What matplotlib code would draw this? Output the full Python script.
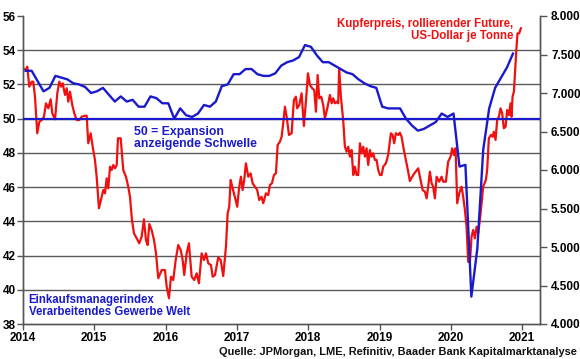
import matplotlib
matplotlib.use("Agg")
import matplotlib.pyplot as plt
from matplotlib.ticker import FuncFormatter, FixedLocator
import numpy as np

plt.rcParams['font.family'] = ['Liberation Sans', 'DejaVu Sans']

# --- Data -------------------------------------------------------------
# JPMorgan global manufacturing PMI, monthly from Jan 2014 to Nov 2020
pmi_start_year = 2014
pmi_values = [
    52.8, 52.8, 52.2, 51.6, 51.8, 52.5, 52.4, 52.3, 52.07, 52.0, 51.85, 51.5,
    51.6, 51.8, 51.4, 51.0, 51.3, 51.0, 51.1, 50.7, 50.7, 51.3, 51.2, 50.9,
    50.9, 50.0, 50.6, 50.2, 50.1, 50.3, 50.8, 50.7, 51.0, 51.9, 52.0, 52.6,
    52.6, 52.9, 52.9, 52.6, 52.5, 52.5, 52.65, 53.1, 53.3, 53.4, 53.6, 54.3,
    54.2, 53.7, 53.3, 53.3, 53.1, 52.9, 52.7, 52.6, 52.3, 52.07, 51.9, 51.8,
    50.7, 50.6, 50.6, 50.6, 50.0, 49.6, 49.3, 49.4, 49.6, 49.8, 50.3, 50.1,
    50.3, 47.2, 47.3, 39.6, 42.4, 48.2, 50.6, 51.8, 52.4, 53.0, 53.8,
]

# Copper price (rolling future, USD per tonne), dates as decimal years
cu_dates = [
    2014.004, 2014.042, 2014.060, 2014.088, 2014.122, 2014.144, 2014.168, 2014.200,
    2014.229, 2014.262, 2014.294, 2014.322, 2014.355, 2014.388, 2014.411, 2014.449,
    2014.481, 2014.509, 2014.537, 2014.557, 2014.589, 2014.613, 2014.635, 2014.659,
    2014.691, 2014.719, 2014.753, 2014.789, 2014.823, 2014.869, 2014.893, 2014.915,
    2014.949, 2014.977, 2015.009, 2015.033, 2015.065, 2015.103, 2015.126, 2015.150,
    2015.173, 2015.196, 2015.220, 2015.244, 2015.266, 2015.290, 2015.314, 2015.332,
    2015.370, 2015.406, 2015.444, 2015.476, 2015.500, 2015.528, 2015.556, 2015.594,
    2015.630, 2015.664, 2015.696, 2015.724, 2015.748, 2015.771, 2015.804, 2015.837,
    2015.865, 2015.897, 2015.945, 2015.991, 2016.015, 2016.047, 2016.075, 2016.107,
    2016.141, 2016.177, 2016.211, 2016.239, 2016.261, 2016.295, 2016.327, 2016.365,
    2016.402, 2016.435, 2016.467, 2016.505, 2016.538, 2016.566, 2016.598, 2016.636,
    2016.660, 2016.692, 2016.738, 2016.772, 2016.808, 2016.846, 2016.870, 2016.892,
    2016.912, 2016.934, 2016.958, 2016.982, 2017.004, 2017.032, 2017.056, 2017.080,
    2017.102, 2017.126, 2017.159, 2017.192, 2017.220, 2017.252, 2017.285, 2017.313,
    2017.346, 2017.369, 2017.407, 2017.439, 2017.463, 2017.491, 2017.519, 2017.547,
    2017.571, 2017.603, 2017.627, 2017.649, 2017.673, 2017.697, 2017.730, 2017.767,
    2017.799, 2017.827, 2017.845, 2017.874, 2017.907, 2017.939, 2017.967, 2017.996,
    2018.024, 2018.056, 2018.084, 2018.108, 2018.132, 2018.154, 2018.182, 2018.210,
    2018.234, 2018.272, 2018.304, 2018.328, 2018.350, 2018.374, 2018.398, 2018.420,
    2018.434, 2018.458, 2018.490, 2018.514, 2018.538, 2018.561, 2018.584, 2018.608,
    2018.631, 2018.654, 2018.678, 2018.701, 2018.725, 2018.748, 2018.771, 2018.795,
    2018.818, 2018.841, 2018.865, 2018.889, 2018.911, 2018.935, 2018.959, 2018.981,
    2019.005, 2019.029, 2019.051, 2019.089, 2019.121, 2019.159, 2019.183, 2019.205,
    2019.229, 2019.262, 2019.285, 2019.309, 2019.341, 2019.369, 2019.397, 2019.425,
    2019.472, 2019.505, 2019.542, 2019.566, 2019.604, 2019.636, 2019.660, 2019.682,
    2019.706, 2019.730, 2019.752, 2019.776, 2019.800, 2019.836, 2019.870, 2019.892,
    2019.930, 2019.962, 2019.996, 2020.019, 2020.042, 2020.066, 2020.089, 2020.117,
    2020.150, 2020.173, 2020.197, 2020.220, 2020.243, 2020.267, 2020.290, 2020.313,
    2020.337, 2020.361, 2020.383, 2020.407, 2020.431, 2020.453, 2020.491, 2020.509,
    2020.533, 2020.561, 2020.585, 2020.603, 2020.627, 2020.649, 2020.673, 2020.697,
    2020.720, 2020.743, 2020.767, 2020.790, 2020.813, 2020.837, 2020.851, 2020.865,
    2020.884, 2020.902, 2020.921, 2020.935, 2020.958, 2020.982,
]
cu_values = [
    7321, 7299, 7342, 7082, 7147, 7147, 6952, 6477,
    6627, 6649, 6692, 6866, 6801, 6918, 6736, 6658,
    6996, 7147, 7082, 7126, 6974, 7061, 6887, 7017,
    6844, 6736, 6649, 6649, 6692, 6705, 6705, 6347,
    6477, 6303, 6130, 5913, 5503, 5653, 5740, 5697,
    5892, 5762, 6043, 6000, 6065, 6022, 6065, 6412,
    6412, 6000, 5913, 5783, 5653, 5351, 5178, 5113,
    5048, 5134, 5360, 5091, 5026, 5299, 5221, 5091,
    4918, 4594, 4701, 4701, 4484, 4334, 4614, 4571,
    4831, 5026, 4961, 4831, 4636, 4918, 5048, 4614,
    4571, 4658, 4529, 4918, 4831, 4918, 4788, 4766,
    4614, 4636, 4866, 4831, 4623, 5004, 5438, 5523,
    5870, 5783, 5697, 5610, 5523, 5783, 5913, 5740,
    5870, 6087, 5913, 5957, 5827, 5783, 5740, 5610,
    5653, 5568, 5697, 5675, 5805, 5827, 5935, 5957,
    6325, 6368, 6432, 6606, 6822, 6692, 6455, 6477,
    6909, 6952, 6801, 6844, 6996, 6571, 6887, 7256,
    7104, 7061, 7039, 6757, 7234, 6931, 6952, 6844,
    6671, 6822, 6974, 6866, 6931, 6866, 6887, 6866,
    7321, 6952, 6649, 6303, 6238, 6303, 6173, 6260,
    5935, 6043, 5935, 5935, 6347, 6217, 6303, 6173,
    6282, 6065, 6260, 6173, 6217, 6130, 6130, 6000,
    5935, 5935, 6043, 6087, 6195, 6477, 6455, 6347,
    6477, 6455, 6484, 6432, 6260, 6130, 6000, 5857,
    5935, 5978, 6022, 5913, 5740, 5718, 5632, 5783,
    5978, 5827, 5783, 5632, 5913, 5848, 5913, 5848,
    5848, 6108, 6173, 6282, 6195, 6282, 5568, 5697,
    5783, 5653, 5481, 5264, 4809, 4796, 5134, 5221,
    5113, 5264, 5178, 5351, 5568, 5783, 5870, 6000,
    6412, 6455, 6432, 6497, 6390, 6649, 6692, 6801,
    6736, 6542, 6562, 6779, 6714, 6866, 6692, 6952,
    7017, 7299, 7601, 7775, 7775, 7840,
]

threshold = 50
years = [2014, 2015, 2016, 2017, 2018, 2019, 2020, 2021]
left_ticks = [38, 40, 42, 44, 46, 48, 50, 52, 54, 56]
right_ticks = [4000, 4500, 5000, 5500, 6000, 6500, 7000, 7500, 8000]

# --- Figure -----------------------------------------------------------
fig = plt.figure(figsize=(5.8, 3.59), dpi=100)
ax = fig.add_axes([23/580, 1-324/359, (540-23)/580, (324-16)/359])
ax2 = ax.twinx()

RED = '#f01010'
BLUE = '#1a1acc'
GRID = '#5a5a5a'

pmi_x = pmi_start_year + (np.arange(len(pmi_values)) + 0.45) / 12.0

ax.set_xlim(2014, 2021.25)
ax.set_ylim(38, 56)
ax2.set_ylim(4000, 8000)

for v in left_ticks[1:-1]:
    ax2.axhline(4000 + (v - 38) * 4000 / 18, color=GRID, lw=1.0, zorder=0)

ax2.plot(cu_dates, cu_values, color=RED, lw=1.6, zorder=2)
ax.axhline(threshold, color=BLUE, lw=1.6, zorder=3)
ax.plot(pmi_x, pmi_values, color=BLUE, lw=1.7, zorder=4)

ax.set_zorder(ax2.get_zorder() + 1)
ax.patch.set_visible(False)

for a in (ax, ax2):
    a.spines['top'].set_visible(False)
    for s in ('left', 'right', 'bottom'):
        a.spines[s].set_color('#555555')
        a.spines[s].set_linewidth(1.0)

ax.yaxis.set_major_locator(FixedLocator(left_ticks))
ax2.yaxis.set_major_locator(FixedLocator(right_ticks))
ax.xaxis.set_major_locator(FixedLocator(years))
ax.xaxis.set_major_formatter(FuncFormatter(lambda v, p: f"{int(v)}"))
ax2.yaxis.set_major_formatter(FuncFormatter(lambda v, p: f"{int(v):,}".replace(',', '.')))

fs = 8.5
ax.tick_params(axis='y', direction='out', length=4, width=1, color='#555555',
               labelsize=fs, pad=1)
ax.tick_params(axis='x', direction='out', length=4, width=1, color='#555555',
               labelsize=fs, pad=2)
ax2.tick_params(axis='y', direction='out', length=5, width=1, color='#555555',
                labelsize=fs, pad=3)
for lab in ax.get_xticklabels() + ax.get_yticklabels() + ax2.get_yticklabels():
    lab.set_fontweight('bold')

# --- Annotations ------------------------------------------------------
ax.text(2015.555, 49.6, "50 = Expansion\nanzeigende Schwelle", color=BLUE,
        fontsize=8.8, fontweight='bold', va='top', ha='left', linespacing=1.0)
ax.text(2014.08, 38.35, "Einkaufsmanagerindex\nVerarbeitendes Gewerbe Welt", color=BLUE,
        fontsize=8.3, fontweight='bold', va='bottom', ha='left', linespacing=1.0)
ax.text(2020.88, 55.9, "Kupferpreis, rollierender Future,\nUS-Dollar je Tonne", color=RED,
        fontsize=8.3, fontweight='bold', va='top', ha='right', linespacing=1.05)
fig.text(577/580, 1-352/359, "Quelle: JPMorgan, LME, Refinitiv, Baader Bank Kapitalmarktanalyse",
         fontsize=7.9, fontweight='bold', ha='right', va='center', color='#111111')

fig.savefig("out.png", dpi=100)
